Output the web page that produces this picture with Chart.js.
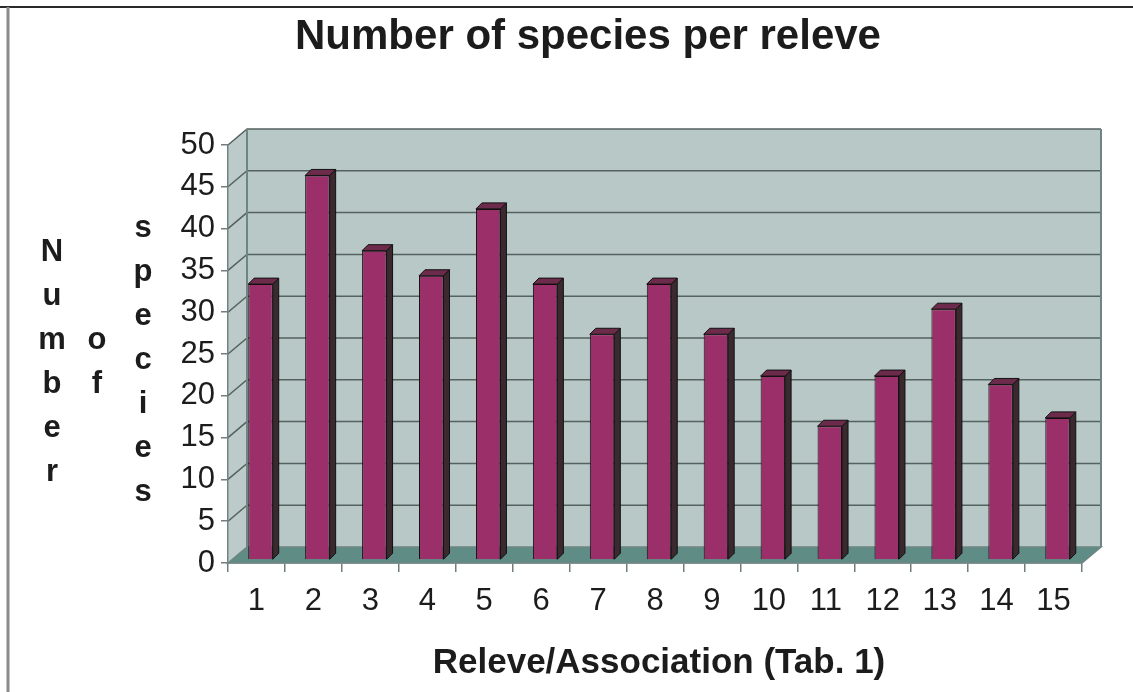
<!DOCTYPE html>
<html>
<head>
<meta charset="utf-8">
<script src="https://cdn.jsdelivr.net/npm/chart.js@4/dist/chart.umd.min.js"></script>
<style>
  html, body { margin: 0; padding: 0; background: #fff; }
  #chart { display: block; }
</style>
</head>
<body>
<canvas id="chart" width="1133" height="692"></canvas>
<script>
// data
const releves = ["1", "2", "3", "4", "5", "6", "7", "8", "9", "10", "11", "12", "13", "14", "15"];
const speciesCount = [33, 46, 37, 34, 42, 33, 27, 33, 27, 22, 16, 22, 30, 21, 17];
const yMax = 50;
const yStep = 5;

const chartTitle = "Number of species per releve";
const xTitle = "Releve/Association (Tab. 1)";
const yTitleCols = ["Number", "of", "species"];

// look of the old 3D spreadsheet chart
const wallDepth = { dx: 19, dy: -16 };
const barShift = { dx: 4, dy: -3 };
const barDepth = { dx: 6, dy: -6 };
const colors = {
  wall: "#b7c8c6",
  sideWall: "#bccbc9",
  floor: "#5f8d85",
  grid: "#55625f",
  edge: "#6f8582",
  barFront: "#9a2f69",
  barSide: "#3a2a2f",
  barTop: "#6d2b4b",
  text: "#1c1c1c",
};

const box3d = {
  id: "box3d",
  beforeDraw(chart) {
    const { ctx, chartArea } = chart;
    const y = chart.scales.y;
    const L = chartArea.left, R = chartArea.right;
    const T = y.getPixelForValue(yMax), B = y.getPixelForValue(0);
    const dx = wallDepth.dx, dy = wallDepth.dy;
    ctx.save();
    ctx.fillStyle = "#fff";
    ctx.fillRect(0, 0, chart.width, chart.height);

    // frame of the original figure
    ctx.strokeStyle = "#2a2a2a";
    ctx.lineWidth = 2;
    ctx.beginPath(); ctx.moveTo(0, 7); ctx.lineTo(chart.width, 7); ctx.stroke();
    ctx.strokeStyle = "#8a8a8a";
    ctx.lineWidth = 3;
    ctx.beginPath(); ctx.moveTo(8, 7); ctx.lineTo(8, chart.height); ctx.stroke();

    // side wall
    ctx.fillStyle = colors.sideWall;
    ctx.beginPath();
    ctx.moveTo(L, B); ctx.lineTo(L, T); ctx.lineTo(L + dx, T + dy); ctx.lineTo(L + dx, B + dy);
    ctx.closePath(); ctx.fill();
    // back wall
    ctx.fillStyle = colors.wall;
    ctx.fillRect(L + dx, T + dy, R - L, B - T);

    // grid on walls
    ctx.strokeStyle = colors.grid;
    ctx.lineWidth = 1.5;
    for (let v = yStep; v <= yMax; v += yStep) {
      const py = y.getPixelForValue(v);
      ctx.beginPath();
      ctx.moveTo(L, py); ctx.lineTo(L + dx, py + dy); ctx.lineTo(R + dx, py + dy);
      ctx.stroke();
    }
    // wall edges
    ctx.strokeStyle = colors.edge;
    ctx.lineWidth = 2;
    ctx.beginPath();
    ctx.moveTo(L + dx, B + dy); ctx.lineTo(L + dx, T + dy);
    ctx.moveTo(R + dx, B + dy); ctx.lineTo(R + dx, T + dy);
    ctx.stroke();

    // floor
    ctx.fillStyle = colors.floor;
    ctx.beginPath();
    ctx.moveTo(L, B); ctx.lineTo(L + dx, B + dy); ctx.lineTo(R + dx, B + dy); ctx.lineTo(R, B);
    ctx.closePath(); ctx.fill();
    ctx.strokeStyle = colors.edge;
    ctx.lineWidth = 1.5;
    ctx.stroke();
    ctx.restore();
  },
  beforeDatasetsDraw(chart) {
    chart.ctx.save();
    chart.ctx.translate(barShift.dx, barShift.dy);
  },
  afterDatasetsDraw(chart) {
    const ctx = chart.ctx;
    const meta = chart.getDatasetMeta(0);
    ctx.lineWidth = 1;
    ctx.strokeStyle = "#111";
    meta.data.forEach((bar) => {
      const p = bar.getProps(["x", "y", "base", "width"], true);
      const xl = p.x - p.width / 2, xr = p.x + p.width / 2;
      const bx = barDepth.dx, by = barDepth.dy;
      ctx.fillStyle = colors.barSide;
      ctx.beginPath();
      ctx.moveTo(xr, p.y); ctx.lineTo(xr + bx, p.y + by); ctx.lineTo(xr + bx, p.base + by); ctx.lineTo(xr, p.base);
      ctx.closePath(); ctx.fill(); ctx.stroke();
      ctx.fillStyle = colors.barTop;
      ctx.beginPath();
      ctx.moveTo(xl, p.y); ctx.lineTo(xl + bx, p.y + by); ctx.lineTo(xr + bx, p.y + by); ctx.lineTo(xr, p.y);
      ctx.closePath(); ctx.fill(); ctx.stroke();
    });
    ctx.restore();
  },
  afterDraw(chart) {
    const ctx = chart.ctx;
    ctx.save();
    ctx.fillStyle = colors.text;
    ctx.textAlign = "center";
    ctx.textBaseline = "middle";
    ctx.font = "bold 42px 'Liberation Sans', Arial, sans-serif";
    ctx.fillText(chartTitle, 588, 37);
    ctx.font = "bold 35px 'Liberation Sans', Arial, sans-serif";
    ctx.fillText(xTitle, 659, 663);

    // the y title is written letter by letter in three columns
    ctx.font = "bold 31px 'Liberation Sans', Arial, sans-serif";
    const colX = [52, 97, 143];
    const colTop = [252, 340, 228];
    yTitleCols.forEach((word, i) => {
      [...word].forEach((ch, j) => {
        ctx.fillText(ch, colX[i], colTop[i] + j * 44);
      });
    });
    ctx.restore();
  },
};

new Chart(document.getElementById("chart"), {
  type: "bar",
  data: {
    labels: releves,
    datasets: [{
      data: speciesCount,
      backgroundColor: colors.barFront,
      borderColor: "#111",
      borderWidth: 1,
      barPercentage: 0.43,
      categoryPercentage: 1,
    }],
  },
  options: {
    responsive: false,
    devicePixelRatio: 1,
    animation: false,
    layout: { padding: { top: 145, right: 51, left: 0, bottom: 0 } },
    plugins: { legend: { display: false }, tooltip: { enabled: false } },
    scales: {
      x: {
        offset: true,
        grid: { offset: true, drawOnChartArea: false, tickLength: 9, color: "#6f7f7d", lineWidth: 1.5 },
        border: { color: "#6f8582", width: 1.5 },
        ticks: { color: colors.text, font: { family: "'Liberation Sans', Arial", size: 31 }, padding: 11, maxRotation: 0 },
        afterFit(scale) { scale.height = 129; },
      },
      y: {
        min: 0,
        max: yMax,
        ticks: { stepSize: yStep, color: colors.text, font: { family: "'Liberation Sans', Arial", size: 31 }, padding: 6 },
        grid: { drawOnChartArea: false, tickLength: 7, color: "#6f7f7d", lineWidth: 1.5 },
        border: { color: "#6f8582", width: 1.5 },
        afterFit(scale) { scale.width = 228; },
      },
    },
  },
  plugins: [box3d],
});
</script>
</body>
</html>
